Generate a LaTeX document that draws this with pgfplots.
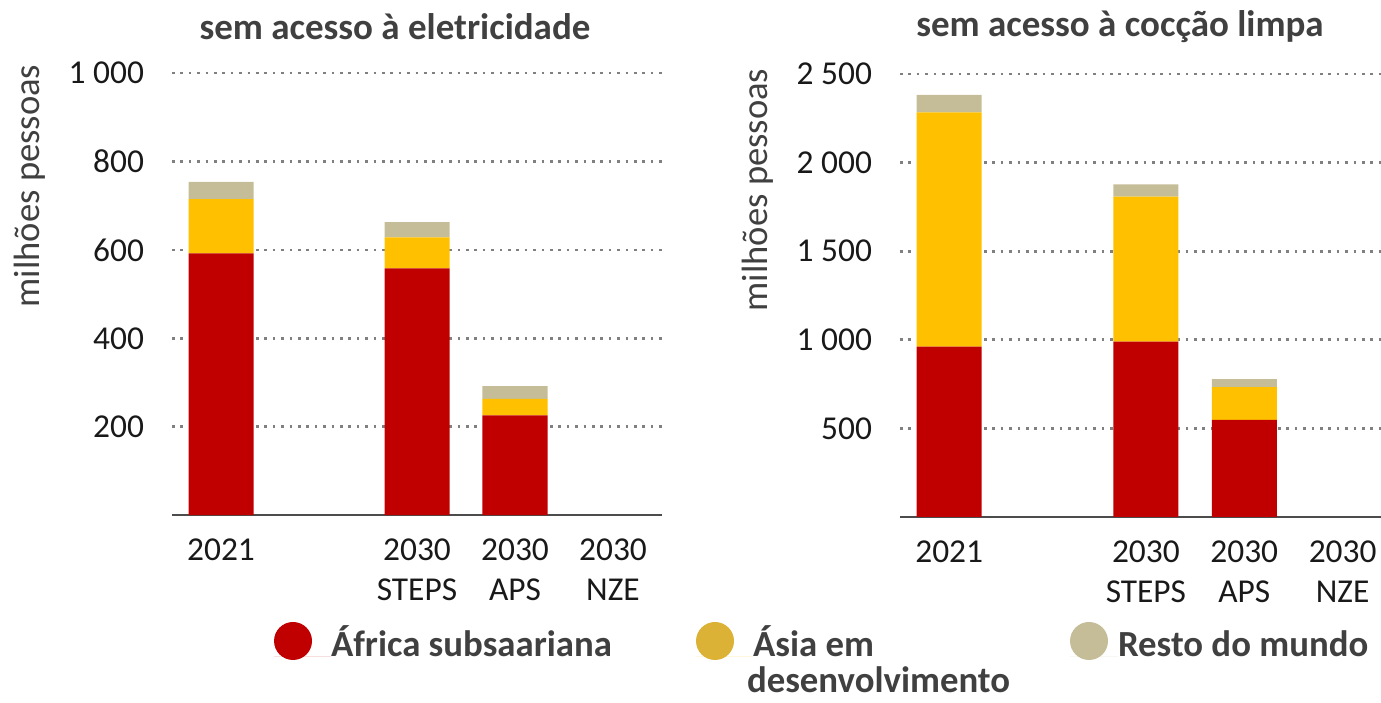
\documentclass[border=0pt]{standalone}
\usepackage{fontspec}
\setmainfont{Carlito}
\usepackage{pgfplots}
\pgfplotsset{compat=1.18}
\definecolor{cRed}{HTML}{C00000}
\definecolor{cYel}{HTML}{FFC000}
\definecolor{cBei}{HTML}{C4BD97}
\definecolor{cYelL}{HTML}{DBB236}
\definecolor{txt}{HTML}{404040}

\pgfplotsset{
  myax/.style={
    scale only axis, width=245pt, height=221.1pt,
    ybar stacked, bar width=32.5pt,
    xmin=-0.5, ymin=0,
    axis x line*=bottom, axis y line*=left,
    y axis line style={draw=none},
    x axis line style={draw=black!70, line width=0.9pt, -},
    major tick length=0pt,
    ymajorgrids,
    grid style={black!50, line width=1.3pt, dash pattern=on 1.3pt off 2.9pt},
    xtick={0,2,3,4},
    xticklabels={2021,{2030\\STEPS},{2030\\APS},{2030\\NZE}},
    xticklabel style={align=center, font=\fontsize{16.7}{20}\selectfont, text=black!90, yshift=-8.5pt},
    yticklabel style={font=\fontsize{16.7}{20}\selectfont, text=black!90, xshift=-10.5pt},
    /pgf/number format/assume math mode=true,
    /pgf/number format/1000 sep={\ },
  }
}

\begin{document}
\begin{tikzpicture}
\useasboundingbox (0,0) rectangle (690.5pt,351pt);

\begin{axis}[myax,
  at={(86pt,93.4pt)}, anchor=south west,
  xmax=4.5, ymax=1000,
  ytick={200,400,600,800,1000},
  legend style={at={(axis description cs:0.2082,-0.2415)}, anchor=north west,
    draw=none, fill=none, inner sep=0pt, outer sep=0pt,
    legend columns=3,
    font=\fontsize{18.4}{22}\bfseries\selectfont, text=txt,
    nodes={inner sep=0pt, outer sep=0pt},
    cells={anchor=base west},
    column sep=0pt},
]
\addplot[fill=cRed, draw=none, legend image code/.code={\fill[cRed] (9.5pt,8pt) circle[radius=9.5pt]; \path (0pt,0pt) -- (28.5pt,0pt);}] coordinates {(0,592) (2,558) (3,226)};
\addplot[fill=cYel, draw=none, legend image code/.code={\fill[cYelL] (9.5pt,8pt) circle[radius=9.5pt]; \path (0pt,0pt) -- (28.5pt,0pt);}] coordinates {(0,123) (2,70) (3,37)};
\addplot[fill=cBei, draw=none, legend image code/.code={\fill[cBei] (9.5pt,8pt) circle[radius=9.5pt]; \path (0pt,0pt) -- (24pt,0pt);}] coordinates {(0,39) (2,35) (3,29)};
\legend{\makebox[182.5pt][l]{África subsaariana},
  {\parbox[t]{158.5pt}{Ásia em\\[-4pt]\hspace*{-3pt}desenvolvimento}},
  Resto do mundo}
\end{axis}

\begin{axis}[myax,
  at={(450pt,92.6pt)}, anchor=south west,
  width=240.5pt, height=221.3pt,
  xmax=4.39, ymax=2500,
  ytick={500,1000,1500,2000,2500},
]
\addplot[fill=cRed, draw=none] coordinates {(0,961) (2,989) (3,547)};
\addplot[fill=cYel, draw=none] coordinates {(0,1324) (2,820) (3,185)};
\addplot[fill=cBei, draw=none] coordinates {(0,98) (2,69) (3,46)};
\end{axis}

\node[font=\fontsize{18.5}{22}\bfseries\selectfont, text=txt] at (197.5pt,337.5pt) {sem acesso à eletricidade};
\node[font=\fontsize{18.5}{22}\bfseries\selectfont, text=txt] at (560pt,337.5pt) {sem acesso à cocção limpa};
\node[font=\fontsize{18.3}{22}\selectfont, text=txt, rotate=90] at (15pt,258pt) {milhões pessoas};
\node[font=\fontsize{18.3}{22}\selectfont, text=txt, rotate=90] at (379pt,256pt) {milhões pessoas};
\end{tikzpicture}
\end{document}
